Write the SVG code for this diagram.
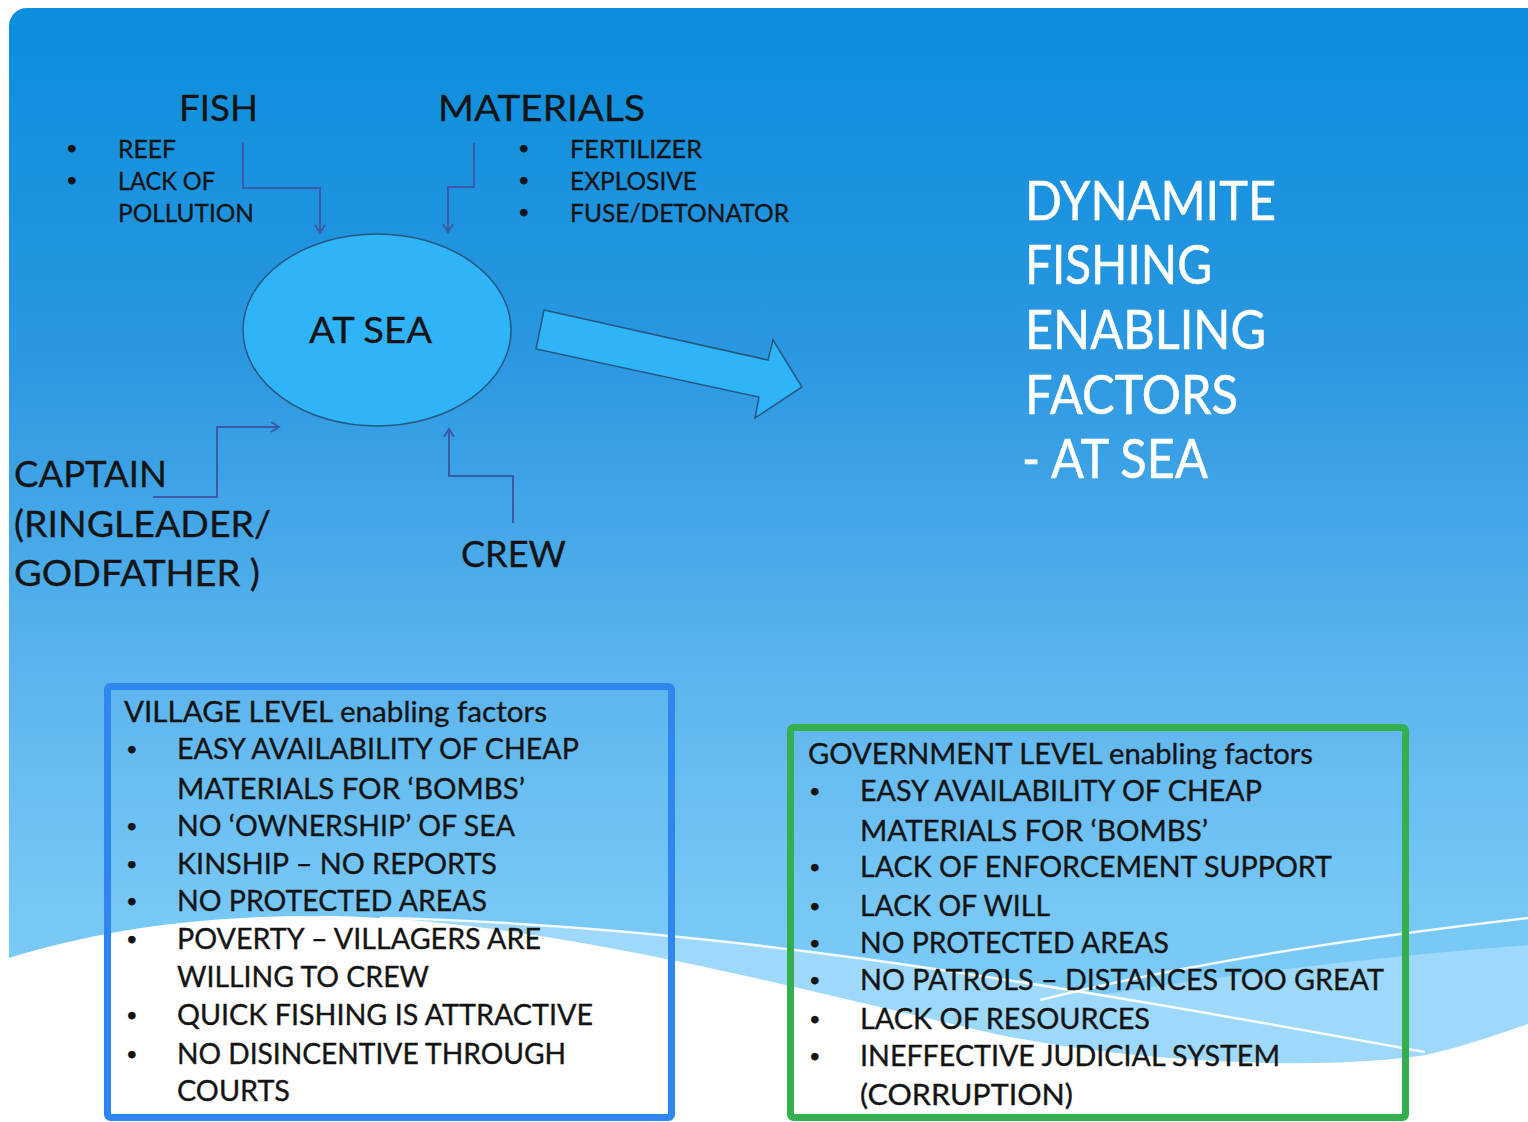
<svg xmlns="http://www.w3.org/2000/svg" width="1528" height="1122" viewBox="0 0 1528 1122">
<style>
text{font-family:Lato,"Open Sans","Liberation Sans",sans-serif;fill:#141414;stroke:#141414;stroke-width:0.35}
.h{font-size:37px}
.s{font-size:25px}
.b{font-size:29px}
.d{font-size:20px}
.t{font-size:55px;fill:#ffffff;stroke:#ffffff;stroke-width:0.6}
.conn{fill:none;stroke:#3B5BA8;stroke-width:2}
.box{fill:none;stroke-width:7}
.wl{fill:none;stroke:#ffffff;stroke-width:2.5;opacity:0.9}
</style>
<defs>
<linearGradient id="bg" x1="0" y1="0" x2="0" y2="1">
<stop offset="0" stop-color="#0A8EDD"/>
<stop offset="0.3" stop-color="#2A97E1"/>
<stop offset="0.6" stop-color="#5EB6EE"/>
<stop offset="0.8" stop-color="#78C8F6"/>
<stop offset="1" stop-color="#80CEF9"/>
</linearGradient>
<marker id="ah" markerWidth="12" markerHeight="12" refX="9" refY="6" orient="auto" markerUnits="userSpaceOnUse">
<path d="M1,1 L9,6 L1,11" fill="none" stroke="#3B5BA8" stroke-width="2"/>
</marker>
</defs>
<rect x="0" y="0" width="1528" height="1122" fill="#ffffff"/>
<rect x="9" y="8" width="1560" height="1140" rx="18" fill="url(#bg)"/>
<path d="M360,919 C700,925 1000,975 1425,1052 L1425,1122 L360,1122 Z" fill="#9ED9FB"/>
<path d="M1000,1012 C1200,975 1400,955 1528,945 L1528,1122 L1000,1122 Z" fill="#9ED9FB"/>
<path d="M9,958 C100,930 200,915 330,916 C550,920 800,990 1000,1035 C1150,1065 1330,1070 1425,1055 C1470,1045 1500,1033 1528,1024 L1528,1122 L9,1122 Z" fill="#ffffff"/>
<path class="wl" d="M380,918 C700,925 1000,975 1425,1052"/>
<path class="wl" d="M1040,1000 C1200,960 1380,935 1528,918"/>

<g id="connectors">
<path class="conn" d="M243,142 L243,188 L320,188 L320,233" marker-end="url(#ah)"/>
<path class="conn" d="M474,143 L474,187 L448,187 L448,232" marker-end="url(#ah)"/>
<path class="conn" d="M153,497 L217,497 L217,427 L279,427" marker-end="url(#ah)"/>
<path class="conn" d="M513,523 L513,476 L449,476 L449,429" marker-end="url(#ah)"/>
</g>

<g id="fish">
<text class="h" x="179" y="121" textLength="79" lengthAdjust="spacingAndGlyphs">FISH</text>
<text class="d" x="66" y="155">•</text>
<text class="d" x="66" y="187">•</text>
<text class="s" x="118" y="158" textLength="58" lengthAdjust="spacingAndGlyphs">REEF</text>
<text class="s" x="118" y="190" textLength="97" lengthAdjust="spacingAndGlyphs">LACK OF</text>
<text class="s" x="118" y="222" textLength="136" lengthAdjust="spacingAndGlyphs">POLLUTION</text>
</g>

<g id="materials">
<text class="h" x="438" y="121" textLength="207" lengthAdjust="spacingAndGlyphs">MATERIALS</text>
<text class="d" x="518" y="155">•</text>
<text class="d" x="518" y="187">•</text>
<text class="d" x="518" y="219">•</text>
<text class="s" x="570" y="158" textLength="132" lengthAdjust="spacingAndGlyphs">FERTILIZER</text>
<text class="s" x="570" y="190" textLength="127" lengthAdjust="spacingAndGlyphs">EXPLOSIVE</text>
<text class="s" x="570" y="222" textLength="219" lengthAdjust="spacingAndGlyphs">FUSE/DETONATOR</text>
</g>

<g id="at-sea">
<ellipse cx="377" cy="330" rx="134" ry="96" fill="#2FB4FA" stroke="#24587E" stroke-width="1.5"/>
<text class="h" x="309" y="343" textLength="123" lengthAdjust="spacingAndGlyphs">AT SEA</text>
</g>

<g id="big-arrow">
<polygon points="544,310 768,360 773,340 802,387 755,418 759,397 536,349" fill="#2FB4FA" stroke="#24587E" stroke-width="1.5"/>
</g>

<g id="captain">
<text class="h" x="14" y="487" textLength="153" lengthAdjust="spacingAndGlyphs">CAPTAIN</text>
<text class="h" x="14" y="537" textLength="257" lengthAdjust="spacingAndGlyphs">(RINGLEADER/</text>
<text class="h" x="14" y="586" textLength="246" lengthAdjust="spacingAndGlyphs">GODFATHER )</text>
</g>

<g id="crew">
<text class="h" x="461" y="567" textLength="105" lengthAdjust="spacingAndGlyphs">CREW</text>
</g>

<g id="title">
<text class="t" x="1025" y="220" textLength="251" lengthAdjust="spacingAndGlyphs">DYNAMITE</text>
<text class="t" x="1025" y="284" textLength="187" lengthAdjust="spacingAndGlyphs">FISHING</text>
<text class="t" x="1025" y="349" textLength="241" lengthAdjust="spacingAndGlyphs">ENABLING</text>
<text class="t" x="1025" y="414" textLength="213" lengthAdjust="spacingAndGlyphs">FACTORS</text>
<text class="t" x="1022" y="478" textLength="186" lengthAdjust="spacingAndGlyphs">- AT SEA</text>
</g>

<g id="village-box">
<rect class="box" x="107.5" y="686.5" width="564" height="431" rx="3" stroke="#2F86EE"/>
<text class="b" x="124" y="722" textLength="423" lengthAdjust="spacingAndGlyphs">VILLAGE LEVEL enabling factors</text>
<g>
<text class="d" x="126" y="756">•</text>
<text class="d" x="126" y="833">•</text>
<text class="d" x="126" y="871">•</text>
<text class="d" x="126" y="908">•</text>
<text class="d" x="126" y="946">•</text>
<text class="d" x="126" y="1022">•</text>
<text class="d" x="126" y="1061">•</text>
</g>
<text class="b" x="177" y="759" textLength="402" lengthAdjust="spacingAndGlyphs">EASY AVAILABILITY OF CHEAP</text>
<text class="b" x="177" y="799" textLength="348" lengthAdjust="spacingAndGlyphs">MATERIALS FOR ‘BOMBS’</text>
<text class="b" x="177" y="836" textLength="338" lengthAdjust="spacingAndGlyphs">NO ‘OWNERSHIP’ OF SEA</text>
<text class="b" x="177" y="874" textLength="320" lengthAdjust="spacingAndGlyphs">KINSHIP – NO REPORTS</text>
<text class="b" x="177" y="911" textLength="310" lengthAdjust="spacingAndGlyphs">NO PROTECTED AREAS</text>
<text class="b" x="177" y="949" textLength="364" lengthAdjust="spacingAndGlyphs">POVERTY – VILLAGERS ARE</text>
<text class="b" x="177" y="987" textLength="252" lengthAdjust="spacingAndGlyphs">WILLING TO CREW</text>
<text class="b" x="177" y="1025" textLength="416" lengthAdjust="spacingAndGlyphs">QUICK FISHING IS ATTRACTIVE</text>
<text class="b" x="177" y="1064" textLength="389" lengthAdjust="spacingAndGlyphs">NO DISINCENTIVE THROUGH</text>
<text class="b" x="177" y="1101" textLength="113" lengthAdjust="spacingAndGlyphs">COURTS</text>
</g>

<g id="government-box">
<rect class="box" x="790.5" y="727.5" width="615" height="390" rx="3" stroke="#35AE4F"/>
<text class="b" x="808" y="764" textLength="505" lengthAdjust="spacingAndGlyphs">GOVERNMENT LEVEL enabling factors</text>
<g>
<text class="d" x="809" y="798">•</text>
<text class="d" x="809" y="874">•</text>
<text class="d" x="809" y="913">•</text>
<text class="d" x="809" y="950">•</text>
<text class="d" x="809" y="987">•</text>
<text class="d" x="809" y="1026">•</text>
<text class="d" x="809" y="1063">•</text>
</g>
<text class="b" x="860" y="801" textLength="402" lengthAdjust="spacingAndGlyphs">EASY AVAILABILITY OF CHEAP</text>
<text class="b" x="860" y="841" textLength="348" lengthAdjust="spacingAndGlyphs">MATERIALS FOR ‘BOMBS’</text>
<text class="b" x="860" y="877" textLength="472" lengthAdjust="spacingAndGlyphs">LACK OF ENFORCEMENT SUPPORT</text>
<text class="b" x="860" y="916" textLength="190" lengthAdjust="spacingAndGlyphs">LACK OF WILL</text>
<text class="b" x="860" y="953" textLength="309" lengthAdjust="spacingAndGlyphs">NO PROTECTED AREAS</text>
<text class="b" x="860" y="990" textLength="524" lengthAdjust="spacingAndGlyphs">NO PATROLS – DISTANCES TOO GREAT</text>
<text class="b" x="860" y="1029" textLength="290" lengthAdjust="spacingAndGlyphs">LACK OF RESOURCES</text>
<text class="b" x="860" y="1066" textLength="420" lengthAdjust="spacingAndGlyphs">INEFFECTIVE JUDICIAL SYSTEM</text>
<text class="b" x="860" y="1105" textLength="213" lengthAdjust="spacingAndGlyphs">(CORRUPTION)</text>
</g>
</svg>
